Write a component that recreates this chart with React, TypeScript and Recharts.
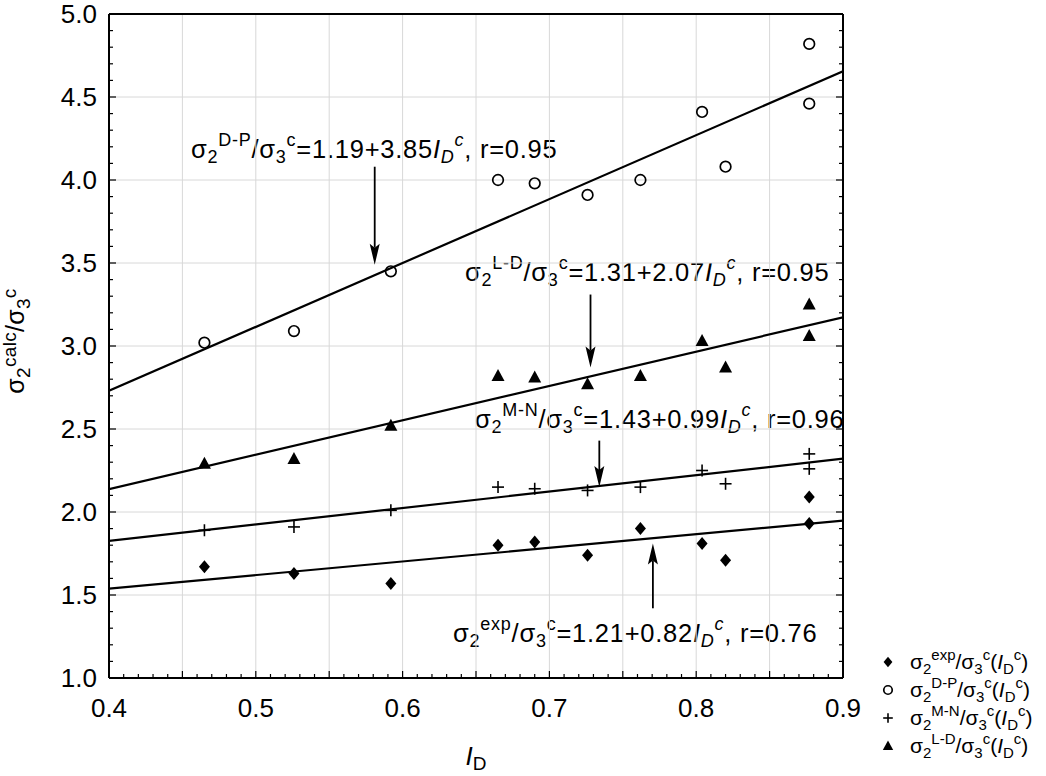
import React from 'react';
import { ComposedChart, XAxis, YAxis, Scatter, Line, ReferenceLine } from 'recharts';

// ---------- data ----------
const X_POS = [0.465, 0.526, 0.592, 0.665, 0.69, 0.726, 0.762, 0.804, 0.82, 0.877, 0.877];
const EXP_Y = [1.67, 1.63, 1.57, 1.80, 1.82, 1.74, 1.90, 1.81, 1.71, 2.09, 1.93];
const DP_Y = [3.02, 3.09, 3.45, 4.00, 3.98, 3.91, 4.00, 4.41, 4.08, 4.82, 4.46];
const MN_Y = [1.89, 1.91, 2.01, 2.15, 2.14, 2.13, 2.15, 2.25, 2.17, 2.35, 2.26];
const LD_Y = [2.29, 2.32, 2.52, 2.82, 2.81, 2.77, 2.82, 3.03, 2.87, 3.25, 3.06];

const FIT_X = [0.4, 0.9];
const FIT_EXP = [1.538, 1.948];
const FIT_DP = [2.73, 4.655];
const FIT_MN = [1.826, 2.321];
const FIT_LD = [2.138, 3.173];

const X_DOMAIN = [0.4, 0.9];
const Y_DOMAIN = [1.0, 5.0];
const X_TICKS = Array.from({ length: 51 }, (_, i) => Math.round((0.4 + i * 0.01) * 100) / 100);
const Y_TICKS = Array.from({ length: 41 }, (_, i) => Math.round((1.0 + i * 0.1) * 10) / 10);
const GRID_X = [0.45, 0.5, 0.55, 0.6, 0.65, 0.7, 0.75, 0.8, 0.85];
const GRID_Y = [1.5, 2.0, 2.5, 3.0, 3.5, 4.0, 4.5];

const ARROW_X = [0.581, 0.728, 0.734, 0.7705];
const ARROW_FROM = [4.08, 3.31, 2.43, 1.42];
const ARROW_TO = [3.49, 2.87, 2.15, 1.81];

const zip = (ys: number[]) => ys.map((y, i) => ({ x: X_POS[i], y }));
const fit = (ys: number[]) => ys.map((y, i) => ({ x: FIT_X[i], y }));

const FONT = '"Liberation Sans", Arial, Helvetica, sans-serif';

// ---------- marker shapes ----------
const Diamond = ({ cx, cy, s = 1 }: any) => (
  <polygon points={`${cx},${cy - 6.5 * s} ${cx + 5.5 * s},${cy} ${cx},${cy + 6.5 * s} ${cx - 5.5 * s},${cy}`} fill="#000" />
);
const Circle = ({ cx, cy, s = 1 }: any) => (
  <circle cx={cx} cy={cy} r={5.3 * s} fill="none" stroke="#000" strokeWidth={1.7} />
);
const Plus = ({ cx, cy, s = 1 }: any) => (
  <g stroke="#000" strokeWidth={1.6}>
    <line x1={cx - 6 * s} y1={cy} x2={cx + 6 * s} y2={cy} />
    <line x1={cx} y1={cy - 6 * s} x2={cx} y2={cy + 6 * s} />
  </g>
);
const Triangle = ({ cx, cy, s = 1 }: any) => (
  <polygon points={`${cx},${cy - 7 * s} ${cx + 6.5 * s},${cy + 5 * s} ${cx - 6.5 * s},${cy + 5 * s}`} fill="#000" />
);

// ---------- rich text ----------
type Seg = [string, 'n' | 'b' | 'p', boolean?];
const Rich = ({ x, y, size, small, segs, sub = 6, sup = 8, anchor = 'start', transform, ls = 0 }: any) => {
  let cur = 0;
  return (
    <text x={x} y={y} fontSize={size} fontFamily={FONT} fill="#000" textAnchor={anchor} transform={transform} letterSpacing={ls}>
      {segs.map(([t, k, it]: Seg, i: number) => {
        const target = k === 'b' ? sub : k === 'p' ? -sup : 0;
        const dy = target - cur;
        cur = target;
        return (
          <tspan key={i} dy={dy} fontSize={k === 'n' ? size : small} fontStyle={it ? 'italic' : 'normal'}>
            {t}
          </tspan>
        );
      })}
    </text>
  );
};

const eq = (name: string, rest: string, r: string): Seg[] => [
  ['σ', 'n'], ['2', 'b'], [name, 'p'], ['/σ', 'n'], ['3', 'b'], ['c', 'p'], [rest, 'n'],
  ['I', 'n', true], ['D', 'b', true], ['c', 'p', true], [`, r=${r}`, 'n'],
];
const leg = (name: string): Seg[] => [
  ['σ', 'n'], ['2', 'b'], [name, 'p'], ['/σ', 'n'], ['3', 'b'], ['c', 'p'], ['(', 'n'],
  ['I', 'n', true], ['D', 'b'], ['c', 'p'], [')', 'n'],
];

const EQUATIONS = [
  { x: 191, y: 158, segs: eq('D-P', '=1.19+3.85', '0.95') },
  { x: 465, y: 281, segs: eq('L-D', '=1.31+2.07', '0.95') },
  { x: 475, y: 428, segs: eq('M-N', '=1.43+0.99', '0.96') },
  { x: 453, y: 642, segs: eq('exp', '=1.21+0.82', '0.76') },
];

const LEGEND = [
  { name: 'exp', M: Diamond },
  { name: 'D-P', M: Circle },
  { name: 'M-N', M: Plus },
  { name: 'L-D', M: Triangle },
];

// ---------- axis ticks ----------
const BottomTick = (p: any) => {
  const v = p.payload.value;
  const k = Math.round(v * 100);
  const len = k % 5 === 0 ? 7 : 4;
  return (
    <g>
      <line x1={p.x} y1={p.y} x2={p.x} y2={p.y - len} stroke="#000" strokeWidth={1.2} />
      {k % 10 === 0 && (
        <text x={p.x} y={p.y + 39} textAnchor="middle" fontSize={26} fontFamily={FONT} fill="#000">
          {v.toFixed(1)}
        </text>
      )}
    </g>
  );
};
const TopTick = (p: any) => {
  const k = Math.round(p.payload.value * 100);
  const len = k % 5 === 0 ? 7 : 4;
  return <line x1={p.x} y1={p.y} x2={p.x} y2={p.y + len} stroke="#000" strokeWidth={1.2} />;
};
const LeftTick = (p: any) => {
  const v = p.payload.value;
  const k = Math.round(v * 10);
  const len = k % 5 === 0 ? 7 : 4;
  return (
    <g>
      <line x1={p.x} y1={p.y} x2={p.x + len} y2={p.y} stroke="#000" strokeWidth={1.2} />
      {k % 5 === 0 && (
        <text x={p.x - 12} y={p.y + 9} textAnchor="end" fontSize={26} fontFamily={FONT} fill="#000">
          {v.toFixed(1)}
        </text>
      )}
    </g>
  );
};
const RightTick = (p: any) => {
  const k = Math.round(p.payload.value * 10);
  const len = k % 5 === 0 ? 7 : 4;
  return <line x1={p.x} y1={p.y} x2={p.x - len} y2={p.y} stroke="#000" strokeWidth={1.2} />;
};

const Arrow = (p: any) => {
  const { x1, y1, x2, y2 } = p;
  const dx = x2 - x1, dy = y2 - y1;
  const len = Math.hypot(dx, dy) || 1;
  const ux = dx / len, uy = dy / len;
  const hl = 21, hw = 5;
  const bx = x2 - ux * hl, by = y2 - uy * hl;
  return (
    <g>
      <line x1={x1} y1={y1} x2={bx + ux * 4} y2={by + uy * 4} stroke="#000" strokeWidth={1.8} />
      <polygon
        points={`${x2},${y2} ${bx - uy * hw},${by + ux * hw} ${bx + ux * 4},${by + uy * 4} ${bx + uy * hw},${by - ux * hw}`}
        fill="#000"
      />
    </g>
  );
};

const axisLine = { stroke: '#000', strokeWidth: 2 };

export default function App() {
  return (
    <div style={{ position: 'absolute', left: 0, top: 0, width: 1046, height: 776, background: '#fff' }}>
      <ComposedChart width={1046} height={776} margin={{ top: 13, right: 202, bottom: 38, left: 9 }}>
        <XAxis
          xAxisId="x" type="number" dataKey="x" domain={X_DOMAIN} allowDataOverflow ticks={X_TICKS}
          interval={0} height={60} tickSize={0} tickMargin={0} tickLine={false} axisLine={axisLine}
          tick={<BottomTick />}
        />
        <XAxis
          xAxisId="xt" orientation="top" type="number" domain={X_DOMAIN} allowDataOverflow ticks={X_TICKS}
          interval={0} height={1} tickSize={0} tickMargin={0} tickLine={false} axisLine={axisLine}
          tick={<TopTick />}
        />
        <YAxis
          yAxisId="y" type="number" dataKey="y" domain={Y_DOMAIN} allowDataOverflow ticks={Y_TICKS}
          interval={0} width={100} tickSize={0} tickMargin={0} tickLine={false} axisLine={axisLine}
          tick={<LeftTick />}
        />
        <YAxis
          yAxisId="yr" orientation="right" type="number" domain={Y_DOMAIN} allowDataOverflow ticks={Y_TICKS}
          interval={0} width={1} tickSize={0} tickMargin={0} tickLine={false} axisLine={axisLine}
          tick={<RightTick />}
        />

        {GRID_X.map((v) => (
          <ReferenceLine key={'gx' + v} xAxisId="x" yAxisId="y" x={v} stroke="#d8d8d8" strokeWidth={1} />
        ))}
        {GRID_Y.map((v) => (
          <ReferenceLine key={'gy' + v} xAxisId="x" yAxisId="y" y={v} stroke="#d8d8d8" strokeWidth={1} />
        ))}

        <Line xAxisId="x" yAxisId="y" data={fit(FIT_DP)} dataKey="y" stroke="#000" strokeWidth={2.2} dot={false} isAnimationActive={false} />
        <Line xAxisId="x" yAxisId="y" data={fit(FIT_LD)} dataKey="y" stroke="#000" strokeWidth={2.2} dot={false} isAnimationActive={false} />
        <Line xAxisId="x" yAxisId="y" data={fit(FIT_MN)} dataKey="y" stroke="#000" strokeWidth={2.2} dot={false} isAnimationActive={false} />
        <Line xAxisId="x" yAxisId="y" data={fit(FIT_EXP)} dataKey="y" stroke="#000" strokeWidth={2.2} dot={false} isAnimationActive={false} />

        <Scatter xAxisId="x" yAxisId="y" data={zip(EXP_Y)} shape={(p: any) => <Diamond cx={p.cx} cy={p.cy} />} isAnimationActive={false} />
        <Scatter xAxisId="x" yAxisId="y" data={zip(DP_Y)} shape={(p: any) => <Circle cx={p.cx} cy={p.cy} />} isAnimationActive={false} />
        <Scatter xAxisId="x" yAxisId="y" data={zip(MN_Y)} shape={(p: any) => <Plus cx={p.cx} cy={p.cy} />} isAnimationActive={false} />
        <Scatter xAxisId="x" yAxisId="y" data={zip(LD_Y)} shape={(p: any) => <Triangle cx={p.cx} cy={p.cy} />} isAnimationActive={false} />

        {ARROW_X.map((ax, i) => (
          <ReferenceLine
            key={'ar' + i} xAxisId="x" yAxisId="y" ifOverflow="visible"
            segment={[{ x: ax, y: ARROW_FROM[i] }, { x: ax, y: ARROW_TO[i] }]}
            shape={<Arrow />}
          />
        ))}

        {EQUATIONS.map((e, i) => (
          <Rich key={'eq' + i} x={e.x} y={e.y} size={25.5} small={18} sub={5} sup={12} ls={0.75} segs={e.segs} />
        ))}

        {LEGEND.map((l, i) => {
          const cy = 662 + i * 28;
          const M = l.M;
          return (
            <g key={'lg' + i}>
              <M cx={888} cy={cy} s={0.8} />
              <Rich x={910} y={cy + 7} size={21} small={15} sub={5} sup={9} segs={leg(l.name)} />
            </g>
          );
        })}

        <Rich
          x={24} y={341} size={25} small={19} anchor="middle" sub={6} sup={8} ls={0.3}
          transform="rotate(-90 24 341)"
          segs={[['σ', 'n'], ['2', 'b'], ['calc', 'p'], ['/σ', 'n'], ['3', 'b'], ['c', 'p']]}
        />
        <Rich x={476} y={765} size={26} small={19} anchor="middle" sub={5} segs={[['I', 'n', true], ['D', 'b']]} />
      </ComposedChart>
    </div>
  );
}
